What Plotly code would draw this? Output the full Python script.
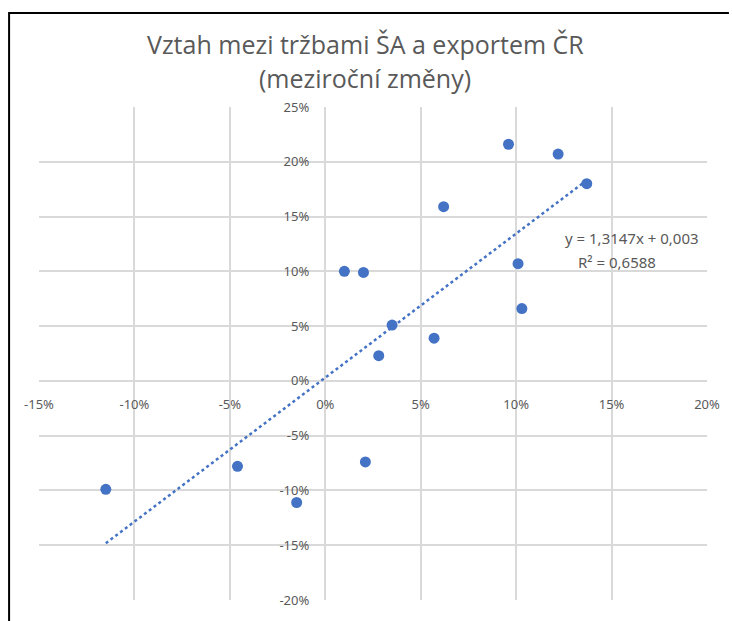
import plotly.graph_objects as go

# year-on-year changes (fractions): x = export CR, y = SA revenues
export_cr = [-0.115, -0.046, -0.015, 0.010, 0.020, 0.021, 0.035, 0.028, 0.057,
             0.062, 0.096, 0.101, 0.103, 0.122, 0.137]
trzby_sa = [-0.099, -0.078, -0.111, 0.100, 0.099, -0.074, 0.051, 0.023, 0.039,
            0.159, 0.216, 0.107, 0.066, 0.207, 0.180]

slope = 1.3147
intercept = 0.003

x_ticks = [-0.15, -0.10, -0.05, 0.0, 0.05, 0.10, 0.15, 0.20]
x_labels = ["-15%", "-10%", "-5%", "0%", "5%", "10%", "15%", "20%"]
y_ticks = [-0.20, -0.15, -0.10, -0.05, 0.0, 0.05, 0.10, 0.15, 0.20, 0.25]
y_labels = ["-20%", "-15%", "-10%", "-5%", "0%", "5%", "10%", "15%", "20%", "25%"]

blue = "#4472C4"
grey = "#595959"
grid = "#d9d9d9"

W, H = 732, 621
L, R, T, B = 39, 23, 107, 21
plot_h = H - T - B
plot_w = W - L - R


def py(y):
    return (H - B - y) / plot_h


def px(x):
    return (x - L) / plot_w


x_line = [min(export_cr), max(export_cr)]
y_line = [slope * v + intercept for v in x_line]

fig = go.Figure()
fig.add_trace(go.Scatter(x=x_line, y=y_line, mode="lines",
                         line=dict(color=blue, width=2.5, dash="dot"),
                         hoverinfo="skip"))
fig.add_trace(go.Scatter(x=export_cr, y=trzby_sa, mode="markers",
                         marker=dict(color=blue, size=11)))

tick_font = dict(family="Noto Sans", size=13, color=grey)
fig.update_xaxes(range=[-0.15, 0.20], tickvals=x_ticks, ticktext=x_labels,
                 showgrid=True, gridcolor=grid, gridwidth=1.5,
                 zeroline=True, zerolinecolor=grid, zerolinewidth=1.5,
                 anchor="free", position=20 / 45, ticks="",
                 ticklabelstandoff=14, tickfont=tick_font, fixedrange=True)
fig.update_yaxes(range=[-0.20, 0.25], tickvals=y_ticks, ticktext=y_labels,
                 showgrid=True, gridcolor=grid, gridwidth=1.5,
                 zeroline=True, zerolinecolor=grid, zerolinewidth=1.5,
                 anchor="free", position=15 / 35, ticks="",
                 ticklabelstandoff=16, tickfont=tick_font, fixedrange=True)

title_font = dict(family="Open Sans", size=25, color=grey)
fig.add_annotation(text="Vztah mezi tržbami ŠA a exportem ČR", xref="paper", yref="paper",
                   x=px(366), y=py(44), yanchor="middle", showarrow=False, font=title_font)
fig.add_annotation(text="(meziroční změny)", xref="paper", yref="paper",
                   x=px(366), y=py(78), yanchor="middle", showarrow=False, font=title_font)

eq_font = dict(family="Noto Sans", size=15, color=grey)
fig.add_annotation(text="y = 1,3147x + 0,003", x=0.197, y=0.130, xanchor="right",
                   showarrow=False, font=eq_font)
fig.add_annotation(text="R² = 0,6588", x=0.153, y=0.1085,
                   showarrow=False, font=eq_font)

# black frame of the screenshot (left and top edges), drawn as one open path
x_left, x_right = px(9), px(W - 1)
y_top, y_bottom = py(13), py(H + 5)
fig.add_shape(type="path", xref="paper", yref="paper",
              path=f"M {x_left} {y_bottom} L {x_left} {y_top} L {x_right} {y_top}",
              line=dict(color="black", width=2))

fig.update_layout(width=W, height=H, showlegend=False,
                  plot_bgcolor="white", paper_bgcolor="white",
                  margin=dict(l=L, r=R, t=T, b=B))

fig.write_html("out.html", config={"displayModeBar": False},
               post_script="document.body.style.margin = '0'; document.body.style.overflow = 'hidden';")
